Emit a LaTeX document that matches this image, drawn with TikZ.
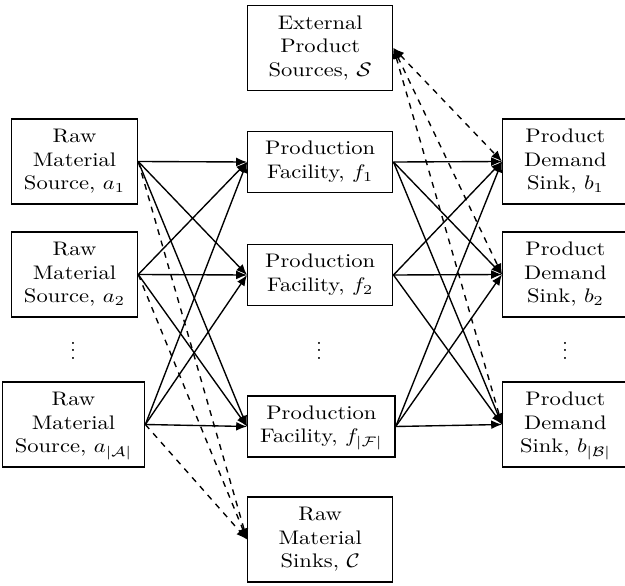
\documentclass[tikz,border=0pt]{standalone}
\usepackage{graphicx}
\usetikzlibrary{arrows.meta}
\newcommand{\wtxt}[1]{\scalebox{1.15}[1]{\begin{tabular}{@{}c@{}}#1\end{tabular}}}
\begin{document}
\begin{tikzpicture}[x=0.51pt,y=-0.51pt,
  box/.style={draw,line width=0.7pt,inner xsep=6.4pt,inner ysep=3.6pt,minimum width=64pt},
  midbox/.style={box,minimum width=74pt,anchor=west},
  flow/.style={line width=0.7pt,-{Latex[length=5.5pt,width=4.5pt]}},
  dflow/.style={line width=0.7pt,dashed,-{Latex[length=5.5pt,width=4.5pt]}},
  dboth/.style={line width=0.7pt,dashed,{Latex[length=5.5pt,width=4.5pt]}-{Latex[length=5.5pt,width=4.5pt]}},
  dotsn/.style={inner sep=0pt}]
\useasboundingbox (0,0) rectangle (625,586);
% left column
\node[box] (a1) at (74.5,161.5) {\wtxt{Raw\\Material\\Source, $a_1$}};
\node[box] (a2) at (74.5,274.5) {\wtxt{Raw\\Material\\Source, $a_2$}};
\node[dotsn] (da) at (73,345) {$\vdots$};
\node[box] (aA) at (73.5,424.5) {\wtxt{Raw\\Material\\Source, $a_{|\mathcal{A}|}$}};
% middle column
\node[midbox] (S) at (247,48) {\wtxt{External\\Product\\Sources, $\mathcal{S}$}};
\node[midbox] (f1) at (247,162) {\wtxt{Production\\Facility, $f_1$}};
\node[midbox] (f2) at (247,275) {\wtxt{Production\\Facility, $f_2$}};
\node[dotsn] (df) at (319,345) {$\vdots$};
\node[midbox] (fF) at (247,426.5) {\wtxt{Production\\Facility, $f_{|\mathcal{F}|}$}};
\node[midbox] (C) at (247,539.5) {\wtxt{Raw\\Material\\Sinks, $\mathcal{C}$}};
% right column
\node[box,anchor=west] (b1) at (502,161.5) {\wtxt{Product\\Demand\\Sink, $b_1$}};
\node[box,anchor=west] (b2) at (502,274.5) {\wtxt{Product\\Demand\\Sink, $b_2$}};
\node[dotsn] (db) at (565,345) {$\vdots$};
\node[box,anchor=west] (bB) at (502,424.5) {\wtxt{Product\\Demand\\Sink, $b_{|\mathcal{B}|}$}};
% connectors
\foreach \a in {a1,a2,aA}{
  \foreach \f in {f1,f2,fF}{
    \draw[flow] (\a.east) -- (\f.west);
  }
  \draw[dflow] (\a.east) -- (C.west);
}
\foreach \f in {f1,f2,fF}{
  \foreach \b in {b1,b2,bB}{
    \draw[flow] (\f.east) -- (\b.west);
  }
}
\foreach \b in {b1,b2,bB}{
  \draw[dboth] (S.east) -- (\b.west);
}
\end{tikzpicture}
\end{document}
